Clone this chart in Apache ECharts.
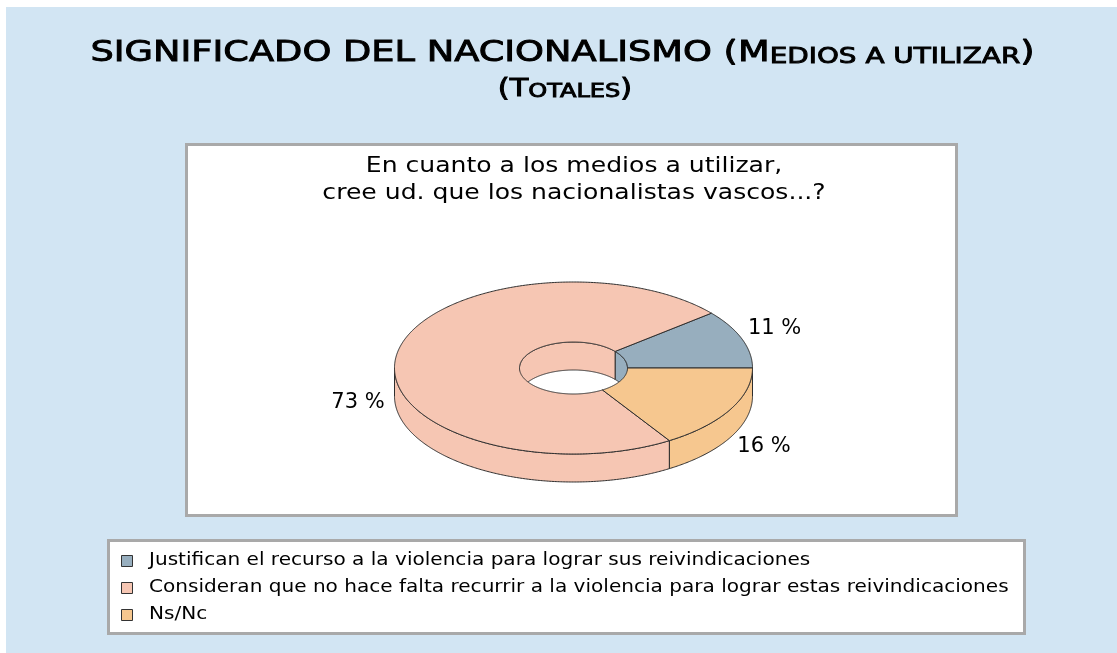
<!DOCTYPE html>
<html>
<head>
<meta charset="utf-8">
<script src="https://cdn.jsdelivr.net/npm/echarts@6/dist/echarts.min.js"></script>
<style>
  html, body { margin: 0; padding: 0; background: #ffffff; }
  #chart { width: 1117px; height: 653px; }
</style>
</head>
<body>
<div id="chart"></div>
<script>
// ---- data ----
const CATEGORIES = [
  'Justifican el recurso a la violencia para lograr sus reivindicaciones',
  'Consideran que no hace falta recurrir a la violencia para lograr estas reivindicaciones',
  'Ns/Nc'
];
const VALUES = [11, 73, 16];           // percentages
const TITLE = 'SIGNIFICADO DEL NACIONALISMO (Medios a utilizar)';
const SUBTITLE = '(Totales)';
const QUESTION = 'En cuanto a los medios a utilizar,\ncree ud. que los nacionalistas vascos...?';

// ---- styling / layout ----
const COLORS = ['#97aebe', '#f6c6b3', '#f6c78f'];
const EDGE = '#2e2e2e';
const FONT = 'DejaVu Sans, Liberation Sans, sans-serif';
// flattened 3D doughnut geometry (pixels)
const DISC = { cx: 573.5, cy: 368, rx: 179, ry: 86, irx: 54, iry: 26, depth: 28 };
// per-slice label nudges relative to the slice's outer rim point
const LABEL_NUDGE = [[6, -10], [-12, 48], [7, 9]];
// legend box rows
const LEGEND = { swatchX: 121.5, textX: 149, firstRow: 561, rowGap: 27, size: 11, textScale: 1.18 };

const TOTAL = VALUES.reduce((s, v) => s + v, 0);

// Build rich-text tokens that imitate small capitals:
// lowercase letters are drawn as smaller uppercase letters.
function smallCaps(str) {
  let out = '';
  let cur = null, buf = '';
  for (let i = 0; i < str.length; i++) {
    const ch = str[i];
    let kind;
    if (ch === ' ') {
      const next = str[i + 1] || '';
      kind = (next && next !== next.toUpperCase()) ? 's' : 'b';
    } else {
      kind = (ch !== ch.toUpperCase()) ? 's' : 'b';
    }
    if (kind !== cur && buf) { out += '{' + cur + '|' + buf + '}'; buf = ''; }
    cur = kind;
    buf += ch.toUpperCase();
  }
  if (buf) out += '{' + cur + '|' + buf + '}';
  return out;
}

// points along an ellipse arc, angles in degrees counter-clockwise from 3 o'clock
function arc(rx, ry, a0, a1, dy) {
  const pts = [];
  const n = Math.max(2, Math.ceil(Math.abs(a1 - a0) / 0.5));
  for (let i = 0; i <= n; i++) {
    const a = (a0 + (a1 - a0) * i / n) * Math.PI / 180;
    pts.push([DISC.cx + rx * Math.cos(a), DISC.cy - ry * Math.sin(a) + dy]);
  }
  return pts;
}

function makeRenderItem(k) {
  return function (params, api) {
    const v = api.value(0);
    let before = 0;
    for (let i = 0; i < k; i++) before += VALUES[i];
    const a0 = before / TOTAL * 360;
    const a1 = (before + v) / TOTAL * 360;
    const fill = api.visual('color');
    const children = [];
    const line = { stroke: EDGE, lineWidth: 1, lineJoin: 'round' };

    // far inner wall of the hole (visible for angles 0..180)
    const is = Math.max(a0, 0), ie = Math.min(a1, 180);
    if (is < ie) {
      children.push({
        type: 'polygon', z2: 1,
        shape: { points: arc(DISC.irx, DISC.iry, is, ie, 0).concat(arc(DISC.irx, DISC.iry, ie, is, DISC.depth)) },
        style: Object.assign({ fill: fill }, line)
      });
    }
    // near outer wall (visible for angles 180..360)
    const os = Math.max(a0, 180), oe = Math.min(a1, 360);
    if (os < oe) {
      children.push({
        type: 'polygon', z2: 3,
        shape: { points: arc(DISC.rx, DISC.ry, os, oe, 0).concat(arc(DISC.rx, DISC.ry, oe, os, DISC.depth)) },
        style: Object.assign({ fill: fill }, line)
      });
    }
    // top face
    children.push({
      type: 'polygon', z2: 10,
      shape: { points: arc(DISC.rx, DISC.ry, a0, a1, 0).concat(arc(DISC.irx, DISC.iry, a1, a0, 0)) },
      style: Object.assign({ fill: fill }, line)
    });
    // percentage label
    const mid = (a0 + a1) / 2 * Math.PI / 180;
    const c = Math.cos(mid), s = Math.sin(mid);
    const px = DISC.cx + DISC.rx * c;
    const py = DISC.cy - DISC.ry * s + (s < 0 ? DISC.depth : 0);
    children.push({
      type: 'text', z2: 20,
      x: px + LABEL_NUDGE[k][0], y: py + LABEL_NUDGE[k][1],
      style: {
        text: v + ' %', fill: '#000', fontFamily: FONT, fontSize: 21,
        align: c >= 0 ? 'left' : 'right', verticalAlign: 'middle'
      }
    });
    return { type: 'group', children: children };
  };
}

const chart = echarts.init(document.getElementById('chart'), null, { renderer: 'canvas' });

const series = CATEGORIES.map((name, k) => ({
  type: 'custom',
  name: name,
  coordinateSystem: 'none',
  itemStyle: { color: COLORS[k] },
  data: [[VALUES[k]]],
  renderItem: makeRenderItem(k),
  animation: false
}));

// legend rows: colour swatch + category text
const legendItems = [];
CATEGORIES.forEach((name, k) => {
  const y = LEGEND.firstRow + LEGEND.rowGap * k;
  legendItems.push({
    type: 'rect', silent: true, z: 10,
    shape: { x: LEGEND.swatchX, y: y - LEGEND.size / 2, width: LEGEND.size, height: LEGEND.size },
    style: { fill: COLORS[k], stroke: '#333', lineWidth: 1 }
  });
  legendItems.push({
    type: 'text', silent: true, z: 10, x: LEGEND.textX, y: y, scaleX: LEGEND.textScale,
    style: { text: name, fill: '#000', fontFamily: FONT, fontSize: 17, align: 'left', verticalAlign: 'middle' }
  });
});

const titleRich = (big, small, bigLH, smallLH) => ({
  b: { fontFamily: FONT, fontSize: big, lineHeight: bigLH, verticalAlign: 'bottom', fill: '#000', stroke: '#000', lineWidth: 0.9 },
  s: { fontFamily: FONT, fontSize: small, lineHeight: smallLH, verticalAlign: 'bottom', fill: '#000', stroke: '#000', lineWidth: 0.9 }
});

chart.setOption({
  backgroundColor: '#ffffff',
  animation: false,
  color: COLORS,
  graphic: {
    elements: [
      { type: 'rect', silent: true, z: -10, shape: { x: 6, y: 7, width: 1111, height: 646 }, style: { fill: '#d2e5f3' } },
      { type: 'rect', silent: true, z: -5, shape: { x: 186.5, y: 144.5, width: 770, height: 371 }, style: { fill: '#ffffff', stroke: '#a9a9a9', lineWidth: 3 } },
      { type: 'rect', silent: true, z: -5, shape: { x: 108.5, y: 540.5, width: 916, height: 93 }, style: { fill: '#ffffff', stroke: '#a9a9a9', lineWidth: 3 } },
      {
        type: 'text', silent: true, z: 10, x: 562.5, y: 53.3, scaleX: 1.267,
        style: {
          text: smallCaps(TITLE), fill: '#000', align: 'center', verticalAlign: 'middle',
          rich: titleRich(29, 22, 29, 24.8)
        }
      },
      {
        type: 'text', silent: true, z: 10, x: 565, y: 90, scaleX: 1.267,
        style: {
          text: smallCaps(SUBTITLE), fill: '#000', align: 'center', verticalAlign: 'middle',
          rich: titleRich(24, 19, 24, 21)
        }
      },
      {
        type: 'text', silent: true, z: 10, x: 574, y: 180, scaleX: 1.14,
        style: {
          text: QUESTION, fill: '#000', align: 'center', verticalAlign: 'middle',
          fontFamily: FONT, fontSize: 22, lineHeight: 27
        }
      }
    ].concat(legendItems)
  },
  series: series
});
</script>
</body>
</html>
